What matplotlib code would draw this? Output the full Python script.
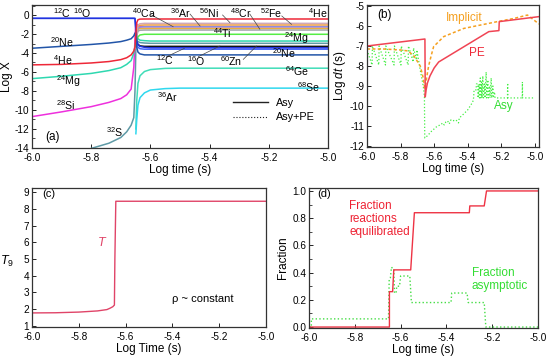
import numpy as np
import matplotlib
matplotlib.use("Agg")
from matplotlib import pyplot as plt
from matplotlib.lines import Line2D
from matplotlib.ticker import MultipleLocator, FormatStrFormatter

plt.rcParams['font.family'] = ['Liberation Sans', 'DejaVu Sans']
plt.rcParams['mathtext.fontset'] = 'custom'
plt.rcParams['mathtext.rm'] = 'Liberation Sans'
plt.rcParams['mathtext.it'] = 'Liberation Sans:italic'
plt.rcParams['axes.unicode_minus'] = False

nan = np.nan

# ---- panel (a): log mass fractions vs log time
t_a = [-6.0, -5.9, -5.8, -5.74, -5.7, -5.68, -5.665, -5.656, -5.652,
       -5.649, -5.646, -5.642, -5.635, -5.62, -5.6, -5.55, -5.5, -5.0]
c12_a = [-0.35, -0.35, -0.35, -0.35, -0.35, -0.35, -0.35, -0.35, -0.36,
         -1.5, -2.7, -3.1, -3.3, -3.4, -3.45, -3.45, -3.45, -3.45]
o16_a = [-0.35, -0.35, -0.35, -0.35, -0.35, -0.35, -0.35, -0.35, -0.36,
         -1.8, -3.0, -3.4, -3.55, -3.6, -3.6, -3.6, -3.6, -3.6]
ne20_a = [-3.5, -3.3, -3.1, -2.95, -2.8, -2.65, -2.5, -2.2, -1.9,
          -2.3, -3.4, -3.9, -4.1, -4.2, -4.2, -4.2, -4.2, -4.2]
he4_a = [-5.25, -5.2, -5.05, -4.9, -4.7, -4.5, -4.2, -3.8, -3.4,
         -2.0, -0.8, -0.5, -0.43, -0.42, -0.42, -0.42, -0.42, -0.42]
mg24_a = [-6.7, -6.45, -6.15, -5.85, -5.55, -5.2, -4.8, -4.0, -3.3,
          -2.6, -2.3, -2.5, -2.65, -2.7, -2.74, -2.74, -2.74, -2.74]
si28_a = [-10.7, -10.2, -9.65, -9.2, -8.8, -8.4, -7.8, -5.5, -2.5,
          -0.8, -1.0, -1.15, -1.2, -1.23, -1.23, -1.23, -1.23, -1.23]
s32_a = [-16.5, -15.3, -14.05, -13.5, -12.9, -12.3, -11.6, -10.8, -8.0,
         -3.5, -2.6, -2.8, -2.9, -2.95, -2.98, -2.98, -2.98, -2.98]
ar36_a = [nan, nan, nan, nan, nan, nan, nan, nan, nan,
          -3.4, -2.2, -1.7, -1.6, -1.58, -1.58, -1.58, -1.58, -1.58]
ca40_a = [nan, nan, nan, nan, nan, nan, nan, nan, nan,
          -2.8, -1.9, -1.5, -1.42, -1.4, -1.4, -1.4, -1.4, -1.4]
cr48_a = [nan, nan, nan, nan, nan, nan, nan, nan, nan,
          -3.2, -2.0, -1.4, -1.28, -1.23, -1.23, -1.23, -1.23, -1.23]
fe52_a = [nan, nan, nan, nan, nan, nan, nan, nan, nan,
          -3.0, -1.7, -1.2, -1.08, -1.05, -1.05, -1.05, -1.05, -1.05]
ni56_a = [nan, nan, nan, nan, nan, nan, nan, nan, nan,
          -3.5, -1.6, -1.05, -0.92, -0.88, -0.88, -0.88, -0.88, -0.88]
ti44_a = [nan, nan, nan, nan, nan, nan, nan, nan, nan,
          -3.3, -2.8, -2.3, -2.1, -2.03, -2.03, -2.03, -2.03, -2.03]
zn60_a = [nan, nan, nan, nan, nan, nan, nan, nan, nan,
          -2.7, -2.9, -3.1, -3.25, -3.3, -3.3, -3.3, -3.3, -3.3]
ge64_a = [nan, nan, nan, nan, nan, nan, nan, nan, nan,
          -12.0, -9.0, -7.2, -6.4, -5.95, -5.75, -5.62, -5.6, -5.6]
se68_a = [nan, nan, nan, nan, nan, nan, nan, nan, nan,
          -12.5, -11.0, -9.5, -8.7, -8.2, -7.9, -7.75, -7.7, -7.7]

# ---- panel (b): log timestep
pe_t = [-6.0, -5.655, -5.653, -5.648, -5.64, -5.625, -5.6, -5.573,
        -5.274, -5.214, -5.212, -4.975]
pe_y = [-7.0, -6.65, -9.55, -9.2, -8.85, -8.5, -8.1, -7.8,
        -6.28, -6.23, -5.78, -5.53]
impl_t = [-6.0, -5.9, -5.8, -5.755, -5.72, -5.683, -5.665, -5.657, -5.652,
          -5.645, -5.633, -5.615, -5.603, -5.543, -5.423, -5.323, -5.223,
          -5.124, -5.044, -4.975]
impl_y = [-7.15, -7.15, -7.2, -7.25, -7.5, -8.0, -8.6, -9.1, -9.05,
          -8.6, -8.0, -7.4, -7.03, -6.53, -6.12, -5.95, -5.78,
          -5.62, -5.45, -5.9]
asy_t = [-6.0, -5.97, -5.968, -5.93, -5.928, -5.89, -5.888, -5.839, -5.837,
         -5.798, -5.796, -5.755, -5.753, -5.725, -5.723, -5.705, -5.703,
         -5.683, -5.665, -5.658, -5.656, -5.65, -5.64, -5.62, -5.6, -5.58,
         -5.56, -5.55, -5.54, -5.53, -5.52, -5.51, -5.5, -5.49, -5.47,
         -5.455, -5.45, -5.43, -5.4, -5.37, -5.365, -5.362, -5.35, -5.348,
         -5.34, -5.338, -5.333, -5.33, -5.325, -5.322, -5.318, -5.315,
         -5.31, -5.307, -5.3, -5.297, -5.29, -5.287, -5.28, -5.277, -5.27,
         -5.267, -5.26, -5.257, -5.25, -5.247, -5.24, -5.237, -5.163,
         -5.162, -5.161, -5.075, -5.074, -5.073, -5.0]
asy_y = [-7.2, -7.95, -7.0, -7.95, -7.0, -7.95, -7.0, -7.95, -7.0,
         -7.95, -7.0, -7.95, -7.0, -7.8, -7.1, -7.7, -7.2,
         -8.2, -9.0, -9.5, -11.6, -11.55, -11.5, -11.3, -11.15, -11.0,
         -10.95, -10.85, -10.95, -10.8, -10.75, -10.9, -10.7, -10.75, -10.7,
         -10.85, -10.6, -10.45, -10.2, -9.8, -9.6, -9.2, -9.2, -8.9,
         -8.9, -9.6, -8.9, -9.6, -8.6, -9.6, -8.8, -9.6,
         -8.5, -9.6, -8.9, -9.6, -8.3, -9.6, -8.7, -9.6, -9.0,
         -9.6, -8.6, -9.6, -9.0, -9.6, -9.3, -9.6, -9.6,
         -8.85, -9.6, -9.6, -8.8, -9.6, -9.6]

# ---- panel (c): temperature
temp_t = [-6.0, -5.9, -5.8, -5.72, -5.68, -5.667, -5.655, -5.648, -5.646,
          -5.642, -5.0]
temp_y = [1.78, 1.79, 1.83, 1.9, 1.98, 2.06, 2.15, 2.25, 5.0, 8.45, 8.45]

# ---- panel (d): fractions
eq_t = [-6.0, -5.649, -5.649, -5.635, -5.63, -5.556, -5.54, -5.30, -5.298,
        -5.235, -5.225, -5.0]
eq_y = [0.0, 0.0, 0.26, 0.26, 0.42, 0.42, 0.84, 0.84, 0.89, 0.89, 1.0, 1.0]
asyf_t = [-6.0, -5.99, -5.99, -5.653, -5.65, -5.645, -5.64, -5.635, -5.63,
          -5.627, -5.62, -5.617, -5.605, -5.6, -5.56, -5.553, -5.38, -5.377,
          -5.31, -5.305, -5.235, -5.228, -5.0]
asyf_y = [0.0, 0.0, 0.06, 0.06, 0.35, 0.36, 0.44, 0.43, 0.43, 0.25, 0.25,
          0.3, 0.3, 0.375, 0.375, 0.18, 0.18, 0.25, 0.25, 0.18, 0.18, 0.0, 0.0]

xticks = [-6.0, -5.8, -5.6, -5.4, -5.2, -5.0]


def style(ax):
    ax.tick_params(direction='in', length=3, width=0.6, labelsize=7.2,
                   pad=2, which='major')
    ax.tick_params(axis='x', pad=3.5)
    ax.tick_params(direction='in', length=2, width=0.5, which='minor')
    for s in ax.spines.values():
        s.set_linewidth(0.9)
        s.set_color('#333333')
    ax.set_xticks(xticks)
    ax.xaxis.set_major_formatter(FormatStrFormatter('%.1f'))


fig = plt.figure(figsize=(5.47, 3.6), dpi=100)

# (a)
ax = fig.add_axes([0.0585, 0.589, 0.541, 0.397])
lines_a = [
    (s32_a, '#5e9aa6'), (si28_a, '#ee30dd'), (mg24_a, '#2ed8b0'),
    (ar36_a, '#a0a4a8'), (ca40_a, '#e8b040'), (cr48_a, '#8c8ce0'),
    (fe52_a, '#f0a040'), (ni56_a, '#d0a8b8'), (ti44_a, '#55ee44'),
    (zn60_a, '#111111'), (o16_a, '#4466ff'), (c12_a, '#2233dd'),
    (ne20_a, '#2255a8'), (he4_a, '#ee2838'), (ge64_a, '#40ddb8'),
    (se68_a, '#30d8ee'),
]
for vals, col in lines_a:
    ax.plot(t_a, vals, color=col, lw=1.1)
ax.set_xlim(-6.0, -5.0)
ax.set_ylim(-14, 1.05)
ax.set_yticks(range(-14, 1, 2))
ax.yaxis.set_minor_locator(MultipleLocator(1))
style(ax)
ax.set_xlabel('Log time (s)', fontsize=8.5, labelpad=1)
ax.set_ylabel('Log X', fontsize=8.5, labelpad=1)

fs = 7.6
labels_a = [
    (r'$^{12}$C', -5.93, 0.2), (r'$^{16}$O', -5.86, 0.2),
    (r'$^{20}$Ne', -5.94, -2.85), (r'$^{4}$He', -5.93, -4.7),
    (r'$^{24}$Mg', -5.92, -7.0), (r'$^{28}$Si', -5.92, -9.5),
    (r'$^{32}$S', -5.75, -12.3), (r'$^{40}$Ca', -5.662, 0.25),
    (r'$^{36}$Ar', -5.534, 0.25), (r'$^{56}$Ni', -5.435, 0.25),
    (r'$^{48}$Cr', -5.33, 0.25), (r'$^{52}$Fe', -5.23, 0.25),
    (r'$^{4}$He', -5.067, 0.2), (r'$^{44}$Ti', -5.39, -1.93),
    (r'$^{24}$Mg', -5.15, -2.4), (r'$^{12}$C', -5.582, -4.74),
    (r'$^{16}$O', -5.477, -4.85), (r'$^{60}$Zn', -5.365, -4.85),
    (r'$^{20}$Ne', -5.19, -4.0), (r'$^{64}$Ge', -5.145, -5.9),
    (r'$^{68}$Se', -5.105, -7.55), (r'$^{36}$Ar', -5.578, -8.67),
]
for txt, x, y in labels_a:
    ax.text(x, y, txt, fontsize=fs, ha='left', va='center')
leaders = [
    ((-5.596, 0.0), (-5.523, -1.23)), ((-5.466, 0.1), (-5.432, -1.16)),
    ((-5.356, 0.0), (-5.331, -0.81)), ((-5.264, 0.1), (-5.23, -1.5)),
    ((-5.156, -0.1), (-5.123, -0.98)), ((-5.545, -4.39), (-5.485, -3.51)),
    ((-5.438, -4.39), (-5.365, -3.26)), ((-5.286, -4.67), (-5.241, -3.26)),
]
for p0, p1 in leaders:
    ax.plot([p0[0], p1[0]], [p0[1], p1[1]], color='#444444', lw=0.5)
ax.text(-5.956, -12.8, '(a)', fontsize=8.5, va='center')
h = [Line2D([], [], color='#222222', lw=1.0),
     Line2D([], [], color='#222222', lw=0.8, ls=':')]
ax.legend(h, ['Asy', 'Asy+PE'], loc='lower right', frameon=False,
          fontsize=7.8, handlelength=3.2, bbox_to_anchor=(0.99, 0.11),
          labelspacing=0.45)

# (b)
ax = fig.add_axes([0.671, 0.592, 0.3144, 0.394])
ax.plot(asy_t, asy_y, color='#44ee44', lw=0.9, ls=':')
ax.plot(impl_t, impl_y, color='#f5a020', lw=1.1, ls=(0, (2, 1.5)))
ax.plot(pe_t, pe_y, color='#f04454', lw=1.1)
ax.set_xlim(-6.0, -4.975)
ax.set_ylim(-12.05, -4.95)
ax.set_yticks(range(-12, -4))
style(ax)
ax.set_xlabel('Log time (s)', fontsize=8.5, labelpad=1)
ax.set_ylabel(r'Log $dt$ (s)', fontsize=8.5, labelpad=1)
ax.text(-5.94, -5.45, '(b)', fontsize=8.5, va='center')
ax.text(-5.533, -5.6, 'Implicit', fontsize=8.5, color='#f5a020', va='center')
ax.text(-5.395, -7.35, 'PE', fontsize=8.5, color='#ee2838', va='center')
ax.text(-5.246, -10.0, 'Asy', fontsize=8.5, color='#33dd33', va='center')

# (c)
ax = fig.add_axes([0.0585, 0.0917, 0.428, 0.386])
ax.plot(temp_t, temp_y, color='#e04468', lw=1.0)
ax.set_xlim(-6.0, -5.0)
ax.set_ylim(0.94, 9.24)
ax.set_yticks(range(1, 10))
style(ax)
ax.set_xlabel('Log Time (s)', fontsize=8.5, labelpad=1)
ax.set_ylabel(r'$T_9$', fontsize=9, rotation=0, va='center')
ax.yaxis.set_label_coords(-0.105, 0.47)
ax.text(-5.955, 8.9, '(c)', fontsize=8, va='center')
ax.text(-5.7, 6.0, r'$T$', fontsize=9, color='#e04468', ha='center',
        va='center')
ax.text(-5.27, 2.62, r'ρ ~ constant', fontsize=8, ha='center', va='center')

# (d)
ax = fig.add_axes([0.565, 0.0889, 0.4186, 0.389])
ax.plot(asyf_t, asyf_y, color='#44dd44', lw=1.0, ls=':')
ax.plot(eq_t, eq_y, color='#ee3344', lw=1.0)
ax.set_xlim(-6.0, -5.0)
ax.set_ylim(-0.007, 1.022)
ax.set_yticks([0.0, 0.2, 0.4, 0.6, 0.8, 1.0])
ax.yaxis.set_major_formatter(FormatStrFormatter('%.1f'))
ax.yaxis.set_minor_locator(MultipleLocator(0.1))
style(ax)
ax.set_xlabel('Log time (s)', fontsize=8.5, labelpad=1)
ax.set_ylabel('Fraction', fontsize=8.5, labelpad=2)
ax.text(-5.965, 0.975, '(d)', fontsize=8, va='center')
ax.text(-5.824, 0.93, 'Fraction\nreactions\nequilibrated', fontsize=8.5,
        color='#ee2233', va='top', linespacing=1.1)
ax.text(-5.29, 0.44, 'Fraction\nasymptotic', fontsize=8.5,
        color='#33dd33', va='top', linespacing=1.1)

fig.savefig('out.png', dpi=100)
